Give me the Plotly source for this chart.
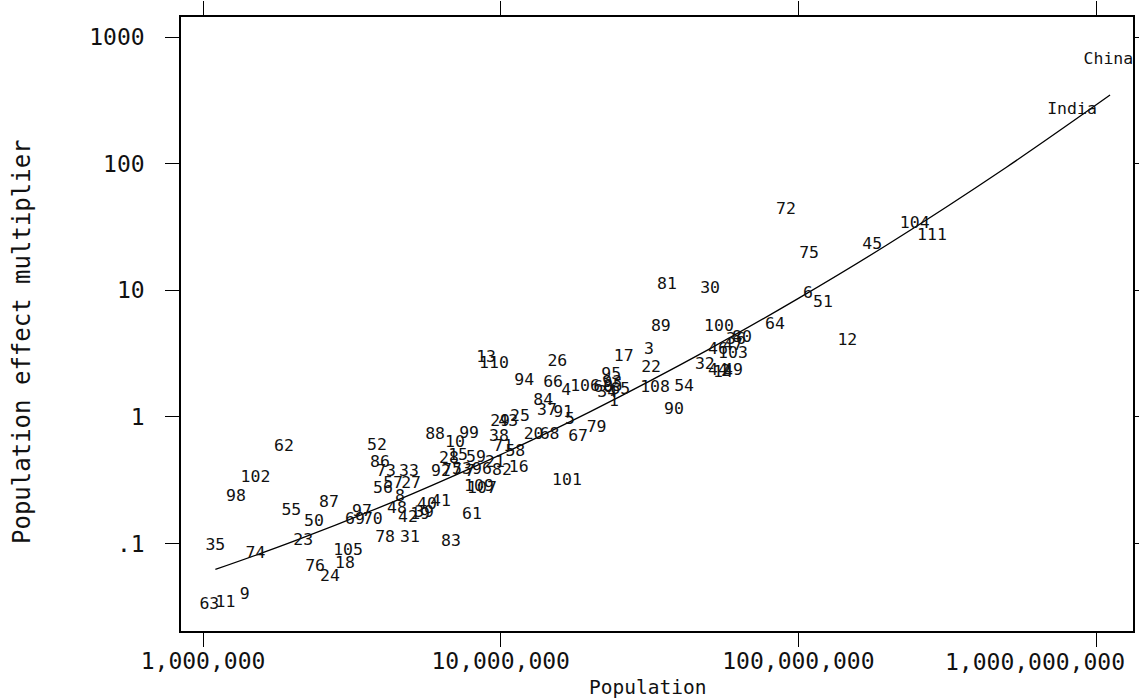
import plotly.graph_objects as go

# Country labels, population and population effect multiplier
labels = ["China", "India", "72", "104", "111", "45", "75", "6", "51", "64", "12",
          "81", "30", "89", "100", "3", "17", "22", "36", "80", "47", "46", "103",
          "32", "44", "49", "2", "14", "108", "54", "90", "95", "93", "106", "60",
          "85", "65", "34", "1", "26", "94", "66", "4", "13", "110", "84", "37",
          "91", "5", "25", "29", "43", "20", "68", "67", "79", "101", "88", "99",
          "10", "38", "71", "58", "16", "82", "21", "28", "15", "59", "92", "77",
          "53", "7", "96", "109", "107", "52", "86", "73", "33", "56", "57", "27",
          "8", "48", "40", "41", "42", "19", "39", "61", "83", "78", "31", "97",
          "69", "70", "62", "102", "98", "55", "87", "50", "23", "35", "74", "105",
          "76", "18", "24", "9", "63", "11"]

population = [1100e6, 830e6, 90.8e6, 246e6, 281e6, 177e6, 108.6e6, 107.7e6, 121e6, 83.4e6, 146e6,
              36.2e6, 50.5e6, 34.5e6, 54.1e6, 31.5e6, 25.9e6, 32.0e6, 61.7e6, 64.6e6, 60.3e6, 53.7e6, 60.3e6,
              48.5e6, 53.7e6, 60.3e6, 57.1e6, 55.8e6, 33.0e6, 41.3e6, 38.2e6, 23.5e6, 23.7e6, 19.2e6, 22.1e6,
              23.8e6, 25.2e6, 22.8e6, 24.0e6, 15.5e6, 12.0e6, 15.0e6, 16.6e6, 8.93e6, 9.49e6, 13.9e6, 14.3e6,
              16.2e6, 17.1e6, 11.6e6, 9.95e6, 10.6e6, 12.9e6, 14.6e6, 18.2e6, 21.0e6, 16.7e6, 6.02e6, 7.83e6,
              7.02e6, 9.87e6, 10.2e6, 11.2e6, 11.5e6, 10.1e6, 9.57e6, 6.70e6, 7.19e6, 8.26e6, 6.30e6, 6.86e6,
              7.41e6, 7.89e6, 8.65e6, 8.45e6, 8.65e6, 3.84e6, 3.93e6, 4.12e6, 4.92e6, 4.02e6, 4.35e6, 5.00e6,
              4.59e6, 4.48e6, 5.65e6, 6.30e6, 4.88e6, 5.36e6, 5.53e6, 8.01e6, 6.81e6, 4.09e6, 4.96e6, 3.42e6,
              3.24e6, 3.72e6, 1.87e6, 1.50e6, 1.29e6, 1.98e6, 2.65e6, 2.36e6, 2.17e6, 1.10e6, 1.50e6, 3.07e6,
              2.38e6, 3.00e6, 2.67e6, 1.38e6, 1.05e6, 1.19e6]

multiplier = [658, 265, 43.0, 33.3, 26.8, 22.7, 19.3, 9.33, 7.92, 5.31, 3.97,
              11.0, 10.2, 5.12, 5.12, 3.37, 2.97, 2.43, 4.04, 4.19, 3.62, 3.37, 3.13,
              2.56, 2.30, 2.30, 2.26, 2.22, 1.69, 1.72, 1.13, 2.14, 1.85, 1.72, 1.69,
              1.72, 1.63, 1.54, 1.31, 2.71, 1.92, 1.85, 1.60, 2.91, 2.61, 1.33, 1.11,
              1.07, 0.944, 1.01, 0.91, 0.91, 0.718, 0.718, 0.692, 0.815, 0.311, 0.718, 0.731,
              0.621, 0.692, 0.577, 0.527, 0.394, 0.373, 0.432, 0.464, 0.490, 0.472, 0.366, 0.373,
              0.380, 0.366, 0.380, 0.279, 0.269, 0.587, 0.432, 0.366, 0.366, 0.269, 0.294, 0.294,
              0.232, 0.187, 0.201, 0.212, 0.159, 0.168, 0.174, 0.168, 0.103, 0.110, 0.112, 0.177,
              0.153, 0.153, 0.577, 0.328, 0.232, 0.180, 0.209, 0.148, 0.106, 0.0953, 0.0824, 0.0871,
              0.0650, 0.0687, 0.0542, 0.0391, 0.0326, 0.0338]

# Fitted curve
fit_population = [1.1e6, 2e6, 5e6, 10e6, 20e6, 50e6, 100e6, 200e6, 500e6, 1114e6]
fit_multiplier = [0.0625, 0.1035, 0.245, 0.504, 1.103, 3.42, 8.63, 23.1, 93.8, 348]

x_tickvals = [1e6, 1e7, 1e8, 1e9]
x_ticktext = ["1,000,000", "10,000,000", "100,000,000", "1,000,000,000"]
y_tickvals = [0.1, 1, 10, 100, 1000]
y_ticktext = [".1", "1", "10", "100", "1000"]

FONT = "DejaVu Sans Mono"

fig = go.Figure()
fig.add_trace(go.Scatter(
    x=fit_population, y=fit_multiplier, mode="lines",
    line=dict(color="black", width=1.3, shape="spline", smoothing=1.0),
    hoverinfo="skip", showlegend=False))
fig.add_trace(go.Scatter(
    x=population, y=multiplier, mode="text", text=labels,
    textposition="middle center",
    textfont=dict(family=FONT, size=16.5, color="#111"),
    cliponaxis=False, showlegend=False))

axis_common = dict(
    showgrid=False, zeroline=False, showline=True, linecolor="black", linewidth=1.5,
    mirror="ticks", ticks="outside", ticklen=14, tickwidth=1.3, tickcolor="black",
    tickfont=dict(family=FONT, size=23, color="#111"))

# the last x label is drawn as an annotation so it can sit inside the page, as in the original
fig.update_xaxes(type="log", range=[5.926, 9.124], tickvals=x_tickvals,
                 ticktext=x_ticktext[:3] + [""], ticklabelstandoff=-5, **axis_common)
fig.update_yaxes(type="log", range=[-1.69, 3.158], tickvals=y_tickvals,
                 ticktext=y_ticktext, ticklabelstandoff=16, **axis_common)

fig.update_layout(
    width=1139, height=698,
    margin=dict(l=181, r=6, t=17, b=67, autoexpand=False),
    paper_bgcolor="white", plot_bgcolor="white",
    annotations=[
        dict(text=x_ticktext[3], xref="x", yref="paper", x=9, y=-0.0505,
             xshift=-61, xanchor="center", yanchor="middle", showarrow=False,
             font=dict(family=FONT, size=23, color="#111")),
        dict(text="Population", xref="paper", yref="paper", x=0.4905, y=-0.0928,
             xanchor="center", yanchor="middle", showarrow=False,
             font=dict(family=FONT, size=19.5, color="#111")),
        dict(text="Population effect multiplier", xref="paper", yref="paper",
             x=-0.167, y=0.4707, xanchor="center", yanchor="middle", textangle=-90,
             showarrow=False, font=dict(family=FONT, size=24, color="#111")),
    ])

fig.write_html("out.html", config={"displayModeBar": False},
               post_script="document.body.style.margin='0';document.body.style.overflow='hidden';")
